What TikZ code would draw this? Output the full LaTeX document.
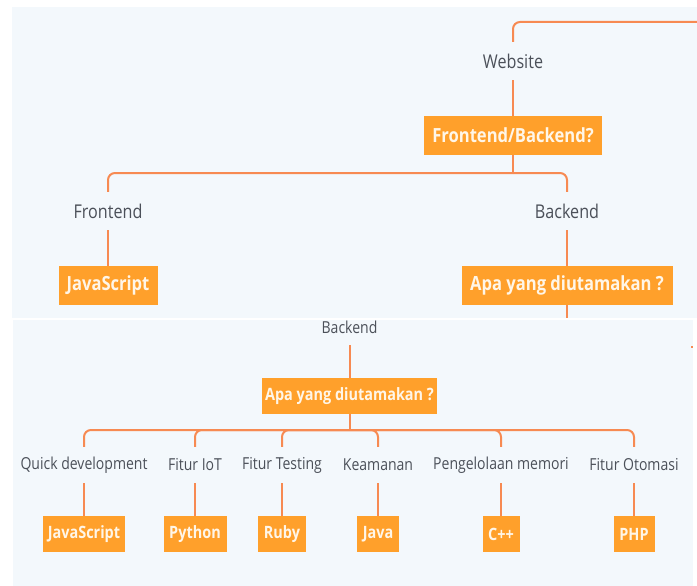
\documentclass[tikz,border=0pt]{standalone}
\usepackage{fontspec}
\setmainfont{Open Sans}
\newfontfamily\mapfont[FakeStretch=0.85]{Open Sans}
\usetikzlibrary{positioning}

\definecolor{panelblue}{HTML}{F3F8FC}
\definecolor{linkorange}{HTML}{F78A52}
\definecolor{boxorange}{HTML}{FFA02B}
\definecolor{boxtext}{HTML}{FFF6E8}
\definecolor{txtgray}{HTML}{4B5059}

\tikzset{
  topic/.style={font=\mapfont\fontsize{19}{19}\selectfont, text=txtgray, inner sep=0pt, minimum height=38pt},
  subtopic/.style={font=\mapfont\fontsize{16.5}{16.5}\selectfont, text=txtgray, inner sep=0pt, minimum height=36pt},
  answer/.style={fill=boxorange, text=boxtext, font=\mapfont\bfseries\fontsize{19.5}{19.5}\selectfont, inner sep=0pt, minimum height=39pt},
  subanswer/.style={fill=boxorange, text=boxtext, font=\mapfont\bfseries\fontsize{17}{17}\selectfont, inner sep=0pt, minimum height=36pt},
  link/.style={draw=linkorange, line width=2pt, rounded corners=7pt},
}

\begin{document}
\begin{tikzpicture}[x=1pt,y=-1pt]
\useasboundingbox (0,0) rectangle (697,586);
\fill[panelblue] (12,7) rectangle (697,318);
\fill[panelblue] (13,320) rectangle (693,586);

% first screen
\node[topic] (website) at (513,61) {Website};
\node[answer,minimum width=178pt] (fb) at (513,135.5) {Frontend/Backend?};
\node[topic] (front) at (108,211) {Frontend};
\node[topic] (back) at (567,211) {Backend};
\node[answer,minimum width=99pt] (js) at (108,285.5) {JavaScript};
\node[answer,minimum width=211pt] (apa) at (567,285.5) {Apa yang diutamakan ?};
\coordinate (up) at (697,22);
\coordinate (fbjoin) at (513,173);
\coordinate (cut) at (567,318);

\draw[link] (website.north) |- (up);
\draw[link] (website.south) -- (fb.north);
\draw[link] (fb.south) -- (fbjoin);
\draw[link] (fbjoin) -| (front.north);
\draw[link] (fbjoin) -| (back.north);
\draw[link] (front.south) -- (js.north);
\draw[link] (back.south) -- (apa.north);
\draw[link] (apa.south) -- (cut);

% second screen
\node[subtopic] (back2) at (349.5,327) {Backend};
\node[subanswer,minimum width=175pt] (apa2) at (349.5,396) {Apa yang diutamakan ?};
\coordinate (apajoin) at (349.5,430);

\node[subtopic] (quick) at (84,465) {Quick development};
\node[subtopic] (iot) at (195,465) {Fitur IoT};
\node[subtopic] (testing) at (282,465) {Fitur Testing};
\node[subtopic] (aman) at (378,465) {Keamanan};
\node[subtopic] (memori) at (501,465) {Pengelolaan memori};
\node[subtopic] (otomasi) at (634,465) {Fitur Otomasi};

\node[subanswer,minimum width=82pt] (js2) at (84,534) {JavaScript};
\node[subanswer,minimum width=63pt] (python) at (195,534) {Python};
\node[subanswer,minimum width=48pt] (ruby) at (282,534) {Ruby};
\node[subanswer,minimum width=42pt] (java) at (378,534) {Java};
\node[subanswer,minimum width=37pt] (cpp) at (501,534) {C++};
\node[subanswer,minimum width=41pt] (php) at (634,534) {PHP};

\draw[link] (back2.south) -- (apa2.north);
\draw[link] (apa2.south) -- (apajoin);
\draw[link] (apajoin) -| (quick.north);
\draw[link] (apajoin) -| (iot.north);
\draw[link] (apajoin) -| (testing.north);
\draw[link] (apajoin) -| (aman.north);
\draw[link] (apajoin) -| (memori.north);
\draw[link] (apajoin) -| (otomasi.north);
\draw[link] (quick.south) -- (js2.north);
\draw[link] (iot.south) -- (python.north);
\draw[link] (testing.south) -- (ruby.north);
\draw[link] (aman.south) -- (java.north);
\draw[link] (memori.south) -- (cpp.north);
\draw[link] (otomasi.south) -- (php.north);

\draw[linkorange,line width=1.5pt] (691,347) -- (693,347);
\end{tikzpicture}
\end{document}
